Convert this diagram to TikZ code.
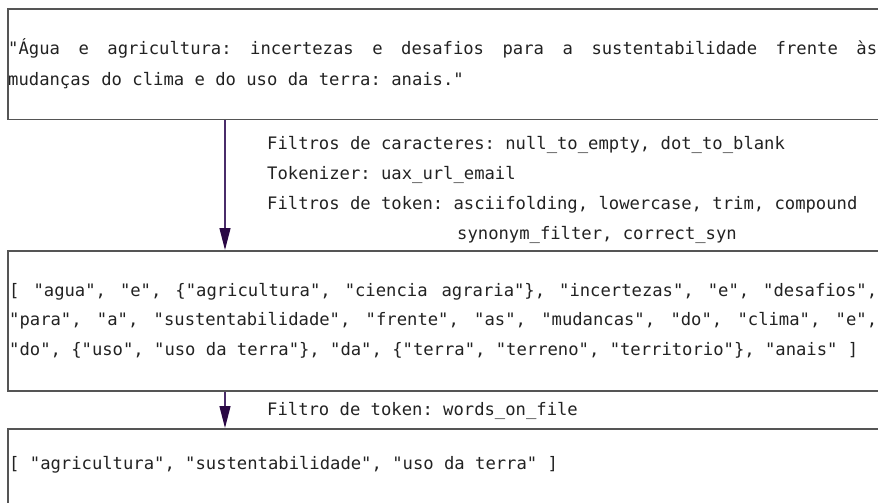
\documentclass[tikz,border=0pt]{standalone}
\usepackage{fontspec}
\setmonofont{DejaVu Sans Mono}
\usetikzlibrary{arrows.meta}
\definecolor{ink}{HTML}{222222}
\definecolor{framegray}{HTML}{555555}
\definecolor{flowline}{HTML}{4A2C6A}
\definecolor{flowhead}{HTML}{2A0845}
\begin{document}
\begin{tikzpicture}[x=1pt,y=-1pt,
  txt/.style={font=\ttfamily\fontsize{17.2}{30}\selectfont, text=ink, inner sep=0pt, anchor=base west},
  frame/.style={draw=framegray, line width=1.5pt, anchor=north west, minimum width=900pt, inner sep=0pt},
  flow/.style={draw=flowline, line width=1.3pt, -{Triangle[length=22pt,width=11pt,fill=flowhead,color=flowhead]}}]
\useasboundingbox (0,0) rectangle (878,503);

% stage boxes (they run past the right edge)
\node[frame, minimum height=110pt] (src) at (7,8.5) {};
\node[frame, minimum height=140pt] (tok) at (7,250) {};
\node[frame, minimum height=120pt] (out) at (7,428) {};

% input text
\node[txt] (s1) at (8,55) {\hbox to 869pt{"Água\hfill e\hfill agricultura:\hfill incertezas\hfill e\hfill desafios\hfill para\hfill a\hfill sustentabilidade\hfill frente\hfill às}};
\node[txt] (s2) at (8,85) {mudanças do clima e do uso da terra: anais."};

% analyzer steps
\node[txt] (l1) at (267,149) {Filtros de caracteres: null\_to\_empty, dot\_to\_blank};
\node[txt] (l2) at (267,179) {Tokenizer: uax\_url\_email};
\node[txt] (l3) at (267,209) {Filtros de token: asciifolding, lowercase, trim, compound};
\node[txt] (l4) at (457,239) {synonym\_filter, correct\_syn};

% token list
\node[txt] (t1) at (9,296) {\hbox to 868pt{[\hfill "agua",\hfill "e",\hfill \{"agricultura",\hfill "ciencia\hfill agraria"\},\hfill "incertezas",\hfill "e",\hfill "desafios",}};
\node[txt] (t2) at (9,325.5) {\hbox to 868pt{"para",\hfill "a",\hfill "sustentabilidade",\hfill "frente",\hfill "as",\hfill "mudancas",\hfill "do",\hfill "clima",\hfill "e",}};
\node[txt] (t3) at (9,355) {"do", \{"uso", "uso da terra"\}, "da", \{"terra", "terreno", "territorio"\}, "anais" ]};

% second filter
\node[txt] (l5) at (267,415) {Filtro de token: words\_on\_file};

% filtered result
\node[txt] (r1) at (9,469) {[ "agricultura", "sustentabilidade", "uso da terra" ]};

% connectors
\coordinate (ax) at (225,0);
\draw[flow] (src.south -| ax) -- (tok.north -| ax);
\draw[flow] (tok.south -| ax) -- (out.north -| ax);
\end{tikzpicture}
\end{document}
